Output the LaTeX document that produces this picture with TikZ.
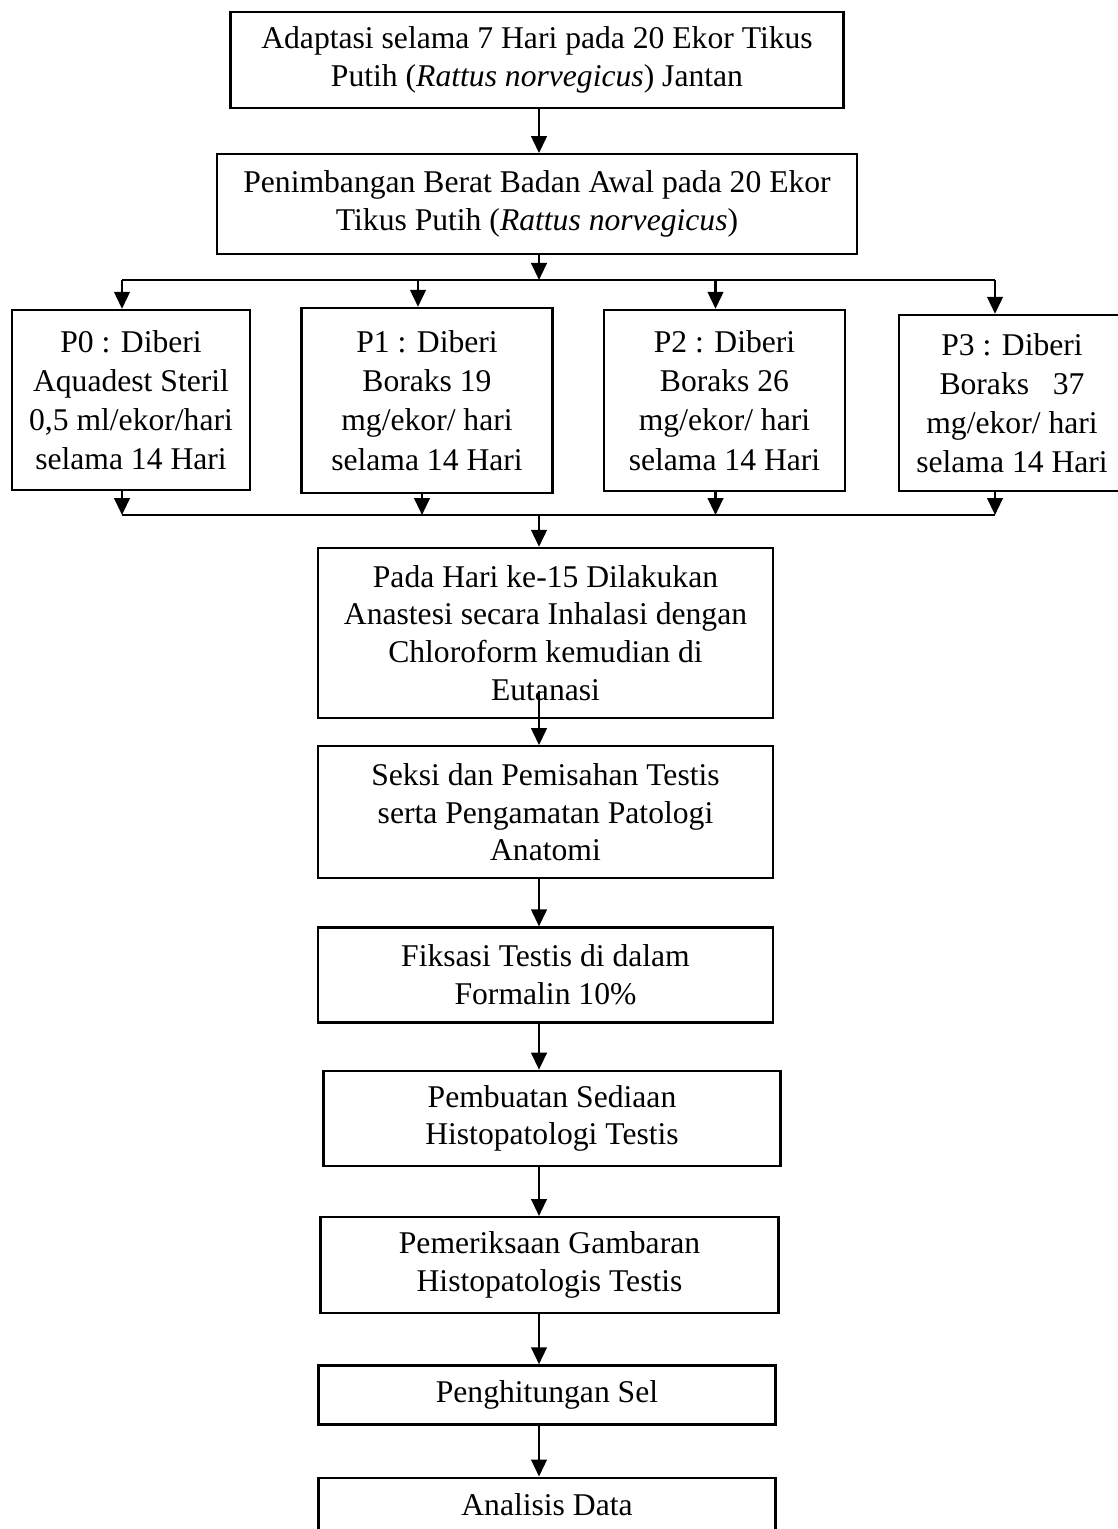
\documentclass[tikz,border=0pt]{standalone}
\usepackage{fontspec}
\setmainfont{Liberation Serif}
\usetikzlibrary{arrows.meta, positioning, calc}

\newcommand{\flowfont}{\fontsize{18}{21.5}\selectfont}

\begin{document}
\begin{tikzpicture}[
    node distance=1.0cm,
    % Flow box styles
    flowbox/.style={rectangle, draw=black, line width=1.3pt, fill=white,
        align=center, inner sep=1pt, font=\flowfont},
    groupbox/.style={flowbox, font=\fontsize{18}{22.3}\selectfont},
    arrow/.style={-{Triangle[length=3.4mm, width=3.1mm]}, line width=1.5pt},
    busline/.style={line width=1.5pt},
]
\useasboundingbox (0,0) rectangle (22.34,-30.58);

% ============ Top: adaptation and weighing ============
\node[flowbox, minimum width=12.26cm, minimum height=1.92cm] (adapt) at (10.74,-1.2)
    {Adaptasi selama 7 Hari pada 20 Ekor Tikus\\Putih (\textit{Rattus norvegicus}) Jantan};

\node[flowbox, minimum width=12.8cm, minimum height=2.0cm, below=0.88cm of adapt] (timbang)
    {Penimbangan Berat Badan Awal pada 20 Ekor\\Tikus Putih (\textit{Rattus norvegicus})};

% ============ Treatment groups P0-P3 ============
\node[groupbox, minimum width=4.76cm, minimum height=3.6cm] (p0) at (2.62,-8.0)
    {P0 : Diberi\\Aquadest Steril\\0,5 ml/ekor/hari\\selama 14 Hari};
\node[groupbox, minimum width=5.02cm, minimum height=3.7cm] (p1) at (8.54,-8.01)
    {P1 : Diberi\\Boraks 19\\mg/ekor/ hari\\selama 14 Hari};
\node[groupbox, minimum width=4.82cm, minimum height=3.62cm] (p2) at (14.49,-8.01)
    {P2 : Diberi\\Boraks 26\\mg/ekor/ hari\\selama 14 Hari};
\node[groupbox, minimum width=4.52cm, minimum height=3.52cm] (p3) at (20.24,-8.06)
    {P3 : Diberi\\Boraks\ \ \ 37\\mg/ekor/ hari\\selama 14 Hari};

% ============ Main chain ============
\node[flowbox, minimum width=9.1cm, minimum height=3.4cm] (pada) at (10.91,-12.66)
    {Pada Hari ke-15 Dilakukan\\Anastesi secara Inhalasi dengan\\Chloroform kemudian di\\Eutanasi};

\node[flowbox, minimum width=9.1cm, minimum height=2.64cm, below=0.52cm of pada] (seksi)
    {Seksi dan Pemisahan Testis\\serta Pengamatan Patologi\\Anatomi};

\node[flowbox, minimum width=9.1cm, minimum height=1.9cm, below=0.94cm of seksi] (fiksasi)
    {Fiksasi Testis di dalam\\Formalin 10\%};

\node[flowbox, minimum width=9.14cm, minimum height=1.9cm, below=0.92cm of fiksasi, xshift=0.13cm] (pembuatan)
    {Pembuatan Sediaan\\Histopatologi Testis};

\node[flowbox, minimum width=9.16cm, minimum height=1.92cm, below=0.98cm of pembuatan, xshift=-0.05cm] (pemeriksaan)
    {Pemeriksaan Gambaran\\Histopatologis Testis};

\node[flowbox, minimum width=9.14cm, minimum height=1.18cm, below=1.0cm of pemeriksaan, xshift=-0.05cm] (hitung)
    {Penghitungan Sel};

\node[flowbox, minimum width=9.14cm, minimum height=1.08cm, below=1.02cm of hitung] (analisis)
    {Analisis Data};

% ============ Helper coordinates ============
\coordinate (spine) at (10.78,0);
\coordinate (busT) at (0,-5.6);
\coordinate (busB) at (0,-10.3);

% ============ Arrows ============
\draw[arrow] (adapt.south -| spine) -- (timbang.north -| spine);
\draw[arrow] (timbang.south -| spine) -- (spine |- busT);

% split to groups
\draw[busline] ([xshift=-0.18cm]p0.north |- busT) -- ([xshift=-0.34cm]p3.north |- busT);
\foreach \p/\dx in {p0/-0.18, p1/-0.18, p2/-0.18, p3/-0.34}
    \draw[arrow] ([xshift=\dx cm]\p.north |- busT) -- ([xshift=\dx cm]\p.north);

% join from groups
\foreach \p/\dx in {p0/-0.18, p1/-0.1, p2/-0.18, p3/-0.34}
    \draw[arrow] ([xshift=\dx cm]\p.south) -- ([xshift=\dx cm]\p.south |- busB);
\draw[busline] ([xshift=-0.18cm]p0.south |- busB) -- ([xshift=-0.34cm]p3.south |- busB);
\draw[arrow] (spine |- busB) -- (pada.north -| spine);

% rest of chain
\draw[arrow] ($(pada.south -| spine)+(0,0.56)$) -- (seksi.north -| spine);
\draw[arrow] (seksi.south -| spine) -- (fiksasi.north -| spine);
\draw[arrow] (fiksasi.south -| spine) -- (pembuatan.north -| spine);
\draw[arrow] (pembuatan.south -| spine) -- (pemeriksaan.north -| spine);
\draw[arrow] (pemeriksaan.south -| spine) -- (hitung.north -| spine);
\draw[arrow] (hitung.south -| spine) -- (analisis.north -| spine);

\end{tikzpicture}
\end{document}
